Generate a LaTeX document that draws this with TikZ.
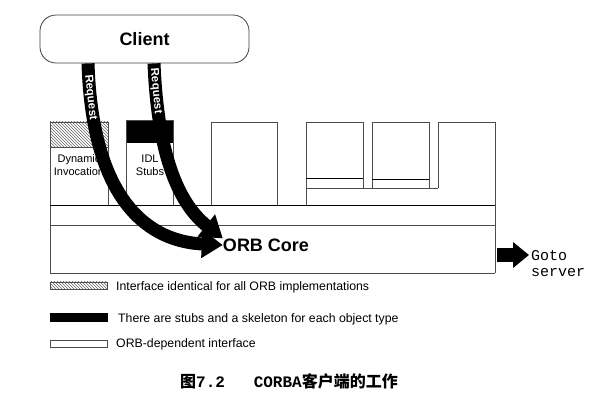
\documentclass[tikz,border=0pt]{standalone}
\usepackage{fontspec}
\setmainfont{Liberation Sans}
\newfontfamily\cjkfont{Noto Sans CJK SC}
\newfontfamily\gotofont{Liberation Mono}
\usetikzlibrary{arrows.meta,patterns}

\begin{document}
\begin{tikzpicture}[x=1pt, y=-1pt,
    frame/.style={draw=black!70, line width=0.8pt},
    hatch/.style={pattern=north west lines, pattern color=black!60},
    reqarrow/.style={line width=13pt, -{Triangle[width=27pt, length=21pt]}},
    reqlabel/.style={sloped, text=white, inner sep=0pt, font=\fontsize{11.5}{13}\selectfont\bfseries},
    boxlabel/.style={align=center, inner sep=0pt, font=\fontsize{11}{13}\selectfont},
    legendtext/.style={anchor=west, inner sep=0pt, font=\fontsize{12.3}{14}\selectfont},
    bigtext/.style={font=\fontsize{18}{20}\selectfont\bfseries}]
  \useasboundingbox (0,0) rectangle (598,401);

  % client
  \node[draw=black!75, line width=0.8pt, rounded corners=16pt, minimum width=209pt,
        minimum height=48pt, bigtext] (client) at (144.5,39) {Client};

  % interface boxes
  \draw[frame, hatch] (50,122) rectangle (108,147);
  \draw[frame] (50,147) rectangle (108,205);
  \fill[black] (126,120) rectangle (173,143);
  \draw[frame] (126,120) rectangle (173,205);
  \draw[frame] (211,122) rectangle (277,205);
  \draw[frame] (306,205) -- (306,122) -- (363,122) -- (363,188);
  \draw[frame] (372,188) -- (372,122) -- (429,122) -- (429,188);
  \draw[frame] (438,188) -- (438,122) -- (495,122) -- (495,273);
  \draw[black] (306,178) -- (363,178);
  \draw[black] (372,179) -- (429,179);
  \draw[frame] (306,188) -- (438,188);

  % orb core
  \draw[frame] (50,122) -- (50,273) -- (495,273);
  \draw[black, line width=0.8pt] (50,205) -- (495,205);
  \draw[frame] (50,225) -- (495,225);

  \node[boxlabel] (dyn) at (79,165) {Dynamic\\Invocation};
  \node[boxlabel] (idl) at (150,165) {IDL\\Stubs};
  \node[bigtext, inner sep=0pt] (orb) at (266,245) {ORB Core};

  % requests
  \draw[reqarrow] ([xshift=-56.5pt]client.south) .. controls +(4,127) and +(-82,-4) .. (orb.west)
    node[reqlabel, pos=0.095] {Request};
  \draw[reqarrow] ([xshift=9.5pt]client.south) .. controls +(4,97) and +(-42,-33) .. (orb.north west)
    node[reqlabel, pos=0.1] {Request};

  % goto server
  \coordinate (coreright) at (497,255);
  \node[anchor=west, align=left, inner sep=0pt, font=\gotofont\fontsize{15}{16}\selectfont] (goto) at (531,264) {Goto\\server};
  \draw[line width=14pt, -{Triangle[width=25pt, length=16pt]}] (coreright) -- ([xshift=-2pt]coreright -| goto.west);

  % legend
  \draw[frame, hatch] (50,282) rectangle (107,289);
  \fill[black] (50,313) rectangle (108,322);
  \draw[frame] (50,340) rectangle (107,347);
  \node[legendtext] (legA) at (116,287) {Interface identical for all ORB implementations};
  \node[legendtext] (legB) at (118,319) {There are stubs and a skeleton for each object type};
  \node[legendtext] (legC) at (116,344) {ORB-dependent interface};

  \node[font=\fontsize{16}{18}\selectfont\bfseries] (caption) at (289,381)
    {\cjkfont 图\gotofont 7.2\ \ \ CORBA\cjkfont 客户端的工作};
\end{tikzpicture}
\end{document}
